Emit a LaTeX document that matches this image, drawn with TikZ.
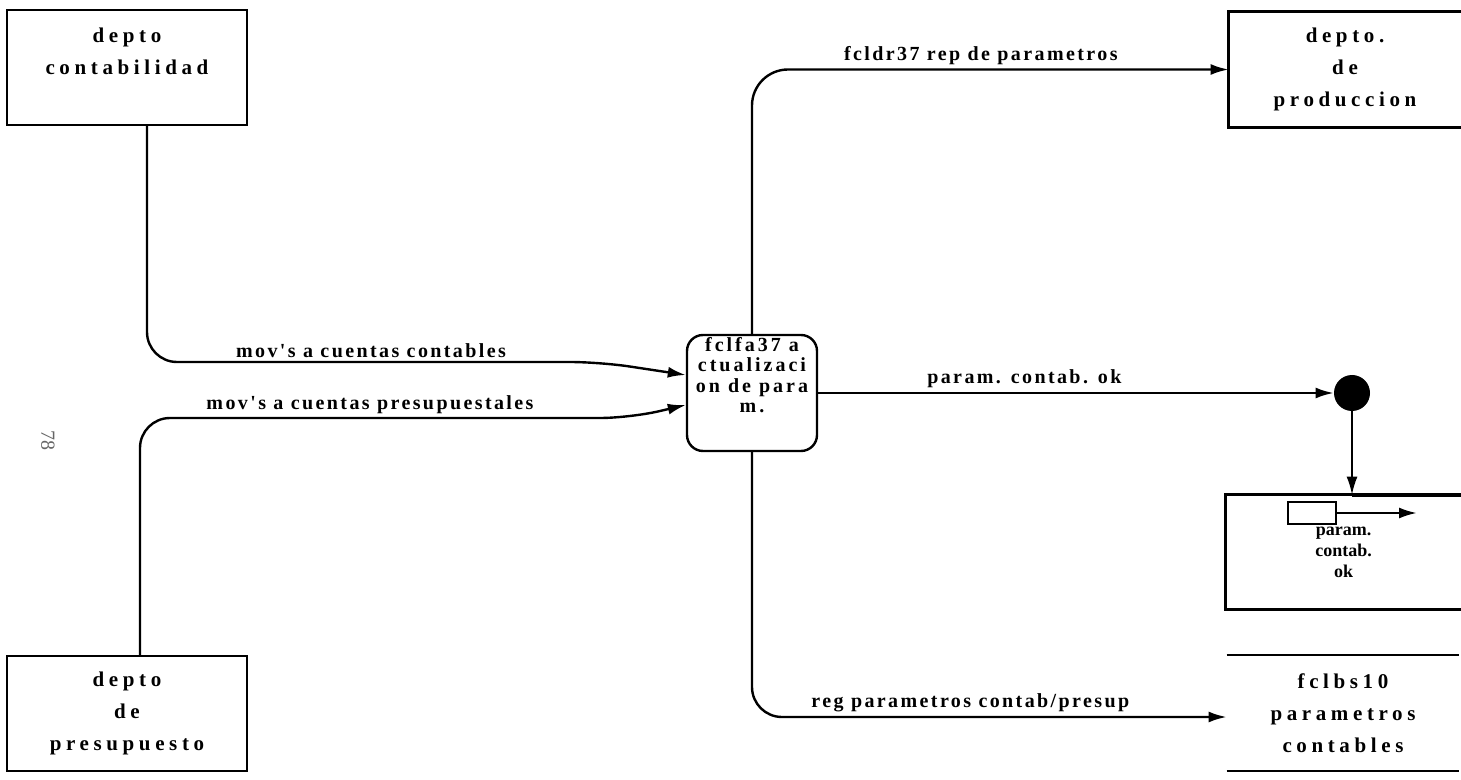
\documentclass[tikz,border=0pt]{standalone}
\usepackage{fontspec}
\setmainfont{Liberation Serif}
\newfontfamily\deptfont{Liberation Serif}[LetterSpace=22]
\newfontfamily\flowfont{Liberation Serif}[LetterSpace=12]
\newfontfamily\procfont{Liberation Serif}[LetterSpace=15]
\usetikzlibrary{arrows.meta,positioning}
\tikzset{
  deptbox/.style   = {rectangle, draw, line width=1.2pt, minimum width=120pt,
                      minimum height=57.5pt, inner sep=0pt, align=center,
                      font=\deptfont\bfseries\fontsize{10.5}{16}\selectfont},
  openbox/.style   = {rectangle, draw=none, minimum width=116pt,
                      minimum height=57.5pt, inner sep=0pt, align=center,
                      font=\deptfont\bfseries\fontsize{10.5}{16}\selectfont},
  okbox/.style     = {rectangle, draw=none, minimum width=117.5pt,
                      minimum height=57pt, inner sep=0pt, align=center,
                      font=\bfseries\fontsize{9}{10.5}\selectfont},
  procbox/.style   = {rectangle, draw, line width=1.2pt, rounded corners=8pt,
                      minimum width=65pt, minimum height=58pt},
  proctext/.style  = {align=center, inner sep=0pt,
                      font=\procfont\bfseries\fontsize{10}{10.2}\selectfont},
  edge/.style      = {line width=1.2pt},
  flow/.style      = {-{Latex[length=9pt,width=5.5pt]}, line width=1.2pt},
  flowlab/.style   = {above, inner sep=2pt,
                      font=\flowfont\bfseries\fontsize{10}{11}\selectfont},
  dotnode/.style   = {circle, fill=black, minimum size=18pt, inner sep=0pt},
  flagbox/.style   = {rectangle, draw, line width=1pt, minimum width=24pt,
                      minimum height=11pt, inner sep=0pt},
}
\begin{document}
\begin{tikzpicture}[x=0.5pt, y=-0.5pt]
\useasboundingbox (0,0) rectangle (1461,780);
% external entities
\node[deptbox] (contab) at (127,67.5) {depto\\contabilidad\\\mbox{}};
\node[deptbox] (presup) at (127,713.5) {depto\\de\\presupuesto};
\node[openbox] (prod) at (1345,69.5) {depto.\\de\\produccion};
\draw[edge] (prod.north east) -- (prod.north west) -- (prod.south west) -- (prod.south east);
% process
\node[procbox] (proc) at (752,393) {};
\node[proctext, below=1.5pt of proc.north] (proclab) {fclfa37 a\\ctualizaci\\on de para\\m.};
% stores
\node[okbox] (okstore) at (1343.5,552) {param.\\contab.\\ok};
\node[openbox] (parstore) at (1343,713) {fclbs10\\parametros\\contables};
\draw[edge] (parstore.north west) -- (parstore.north east);
\draw[edge] (parstore.south west) -- (parstore.south east);
\node[dotnode] (okdot) at (1352,393) {};
\coordinate (okjoin) at (okdot.south |- okstore.north);
\draw[edge] (okjoin) -- (okstore.north west) -- (okstore.south west) -- (okstore.south east);
\draw[line width=2pt] (okjoin) -- (okstore.north east);
\node[flagbox] (okflag) at (1312,513) {};
\coordinate (okout) at (1417,513);
\draw[flow] (okflag.east) -- (okout);
% flows
\draw[flow, rounded corners=15pt] ([xshift=10pt]contab.south) |- (600,362) -- ([yshift=9pt]proc.west);
\node[flowlab] at (371,362) {mov's a cuentas contables};
\draw[flow, rounded corners=15pt] ([xshift=6.5pt]presup.north) |- (630,418) -- ([yshift=-6pt]proc.west);
\node[flowlab] at (370,418) {mov's a cuentas presupuestales};
\draw[flow, rounded corners=18pt] (proc.north) |- (prod.west)
  node[flowlab, pos=0.74] {fcldr37 rep de parametros};
\draw[flow, rounded corners=15pt] (proc.south) |- ([yshift=-2pt]parstore.west)
  node[flowlab, pos=0.73] {reg parametros contab/presup};
\draw[flow] (proc.east) -- (okdot.west) node[flowlab, pos=0.4] {param. contab. ok};
\draw[flow, line width=0.8pt] (okdot.south) -- (okjoin);
% page number
\node[rotate=-90, text=black!60, font=\fontsize{10}{10}\selectfont] (pagenum) at (48,440) {78};
\end{tikzpicture}
\end{document}
